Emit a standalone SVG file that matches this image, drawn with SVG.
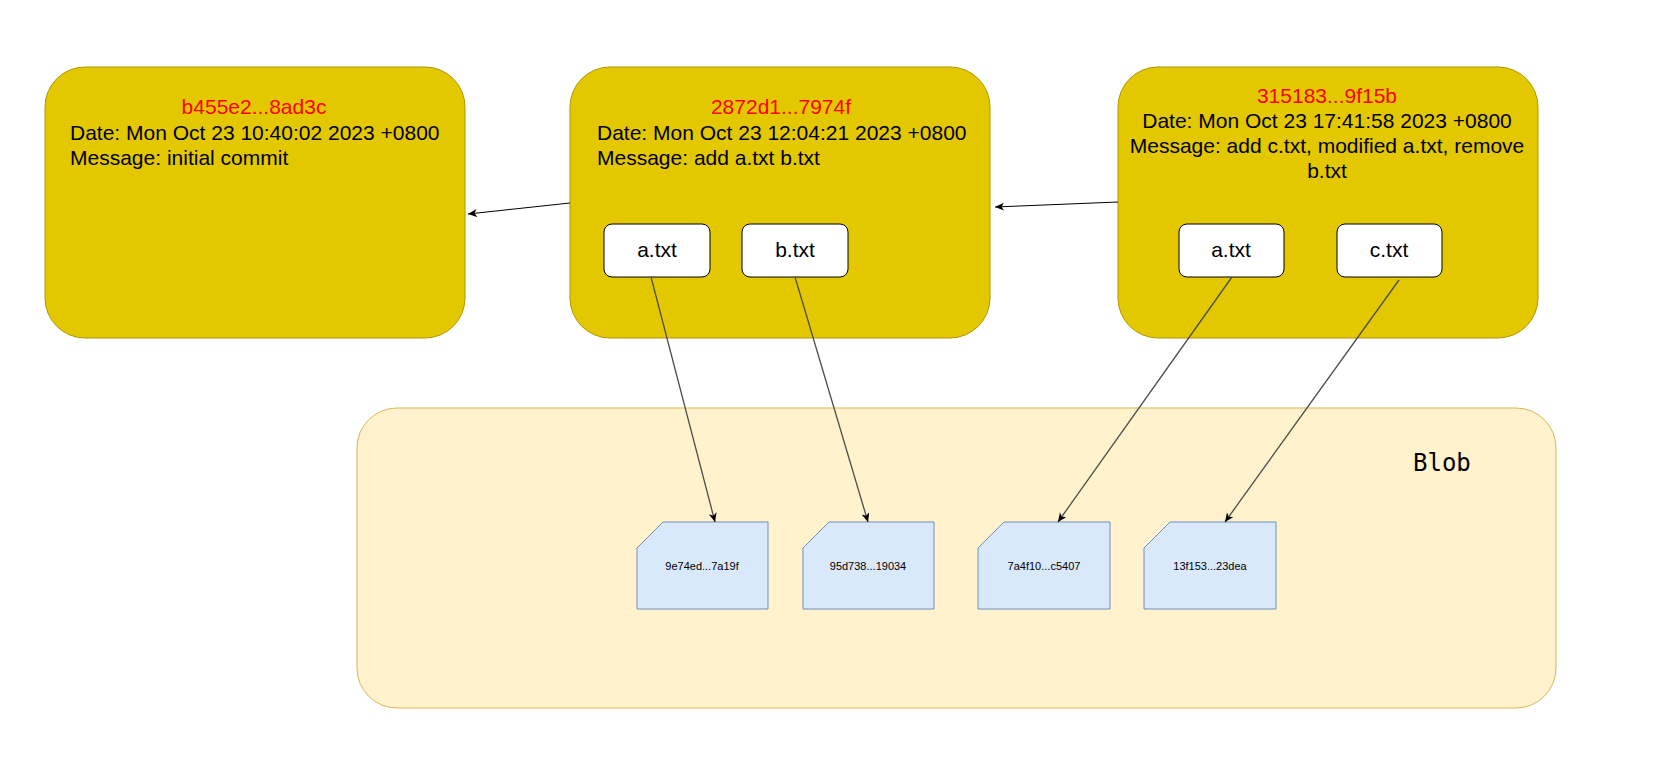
<svg xmlns="http://www.w3.org/2000/svg" width="1658" height="779" viewBox="0 0 1658 779">
<defs>
<style>
.commit{fill:#e3c800;stroke:#b09500;stroke-width:1}
.file{fill:#ffffff;stroke:#000000;stroke-width:1}
.t{font-family:"Liberation Sans",Arial,sans-serif;font-size:21px;fill:#000}
.hash{font-family:"Liberation Sans",Arial,sans-serif;font-size:21px;fill:#ff0000}
.doc{fill:#dae8fc;stroke:#6c8ebf;stroke-width:1}
.dt{font-family:"Liberation Sans",Arial,sans-serif;font-size:11px;fill:#000}
.c1{fill:none;stroke:#000;stroke-width:1}
.c2{fill:none;stroke:#4d4d4d;stroke-width:1.3}
</style>
<marker id="arr" markerUnits="userSpaceOnUse" markerWidth="12" markerHeight="10" refX="9" refY="4" orient="auto">
<path d="M0,0 L9,4 L0,8 L2.5,4 Z" fill="#000"/>
</marker>
</defs>
<rect width="1658" height="779" fill="#ffffff"/>
<g id="blob-container">
<rect x="357" y="408" width="1199" height="300" rx="40" ry="40" fill="#fff2cc" stroke="#d6b656" stroke-width="1"/>
<text x="1413" y="471" font-family="'DejaVu Sans Mono',monospace" font-size="24" fill="#000">Blob</text>
</g>
<g id="commit1">
<rect class="commit" x="45" y="67" width="420" height="271" rx="40" ry="40"/>
<text class="hash" x="254" y="114" text-anchor="middle">b455e2...8ad3c</text>
<text class="t" x="70" y="140">Date: Mon Oct 23 10:40:02 2023 +0800</text>
<text class="t" x="70" y="165">Message: initial commit</text>
</g>
<g id="commit2">
<rect class="commit" x="570" y="67" width="420" height="271" rx="40" ry="40"/>
<text class="hash" x="781" y="114" text-anchor="middle">2872d1...7974f</text>
<text class="t" x="597" y="140">Date: Mon Oct 23 12:04:21 2023 +0800</text>
<text class="t" x="597" y="165">Message: add a.txt b.txt</text>
</g>
<g id="commit2-a">
<rect class="file" x="604" y="224" width="106" height="53" rx="8" ry="8"/>
<text class="t" x="657" y="257" text-anchor="middle">a.txt</text>
</g>
<g id="commit2-b">
<rect class="file" x="742" y="224" width="106" height="53" rx="8" ry="8"/>
<text class="t" x="795" y="257" text-anchor="middle">b.txt</text>
</g>
<g id="commit3">
<rect class="commit" x="1118" y="67" width="420" height="271" rx="40" ry="40"/>
<text class="hash" x="1327" y="103" text-anchor="middle">315183...9f15b</text>
<text class="t" x="1327" y="128" text-anchor="middle">Date: Mon Oct 23 17:41:58 2023 +0800</text>
<text class="t" x="1327" y="153" text-anchor="middle">Message: add c.txt, modified a.txt, remove</text>
<text class="t" x="1327" y="178" text-anchor="middle">b.txt</text>
</g>
<g id="commit3-a">
<rect class="file" x="1179" y="224" width="105" height="53" rx="8" ry="8"/>
<text class="t" x="1231" y="257" text-anchor="middle">a.txt</text>
</g>
<g id="commit3-c">
<rect class="file" x="1337" y="224" width="105" height="53" rx="8" ry="8"/>
<text class="t" x="1389" y="257" text-anchor="middle">c.txt</text>
</g>
<g id="blob1">
<polygon class="doc" points="663,522 768,522 768,609 637,609 637,548"/>
<text class="dt" x="702" y="570" text-anchor="middle">9e74ed...7a19f</text>
</g>
<g id="blob2">
<polygon class="doc" points="829,522 934,522 934,609 803,609 803,548"/>
<text class="dt" x="868" y="570" text-anchor="middle">95d738...19034</text>
</g>
<g id="blob3">
<polygon class="doc" points="1004,522 1110,522 1110,609 978,609 978,548"/>
<text class="dt" x="1044" y="570" text-anchor="middle">7a4f10...c5407</text>
</g>
<g id="blob4">
<polygon class="doc" points="1170,522 1276,522 1276,609 1144,609 1144,548"/>
<text class="dt" x="1210" y="570" text-anchor="middle">13f153...23dea</text>
</g>
<g id="connectors">
<line class="c1" x1="570" y1="203" x2="468" y2="214" marker-end="url(#arr)"/>
<line class="c1" x1="1118" y1="202" x2="995" y2="207" marker-end="url(#arr)"/>
<line class="c2" x1="651" y1="277" x2="715" y2="522" marker-end="url(#arr)"/>
<line class="c2" x1="795" y1="277" x2="868" y2="522" marker-end="url(#arr)"/>
<line class="c2" x1="1232" y1="277" x2="1058" y2="522" marker-end="url(#arr)"/>
<line class="c2" x1="1399" y1="280" x2="1225" y2="522" marker-end="url(#arr)"/>
</g>
</svg>
